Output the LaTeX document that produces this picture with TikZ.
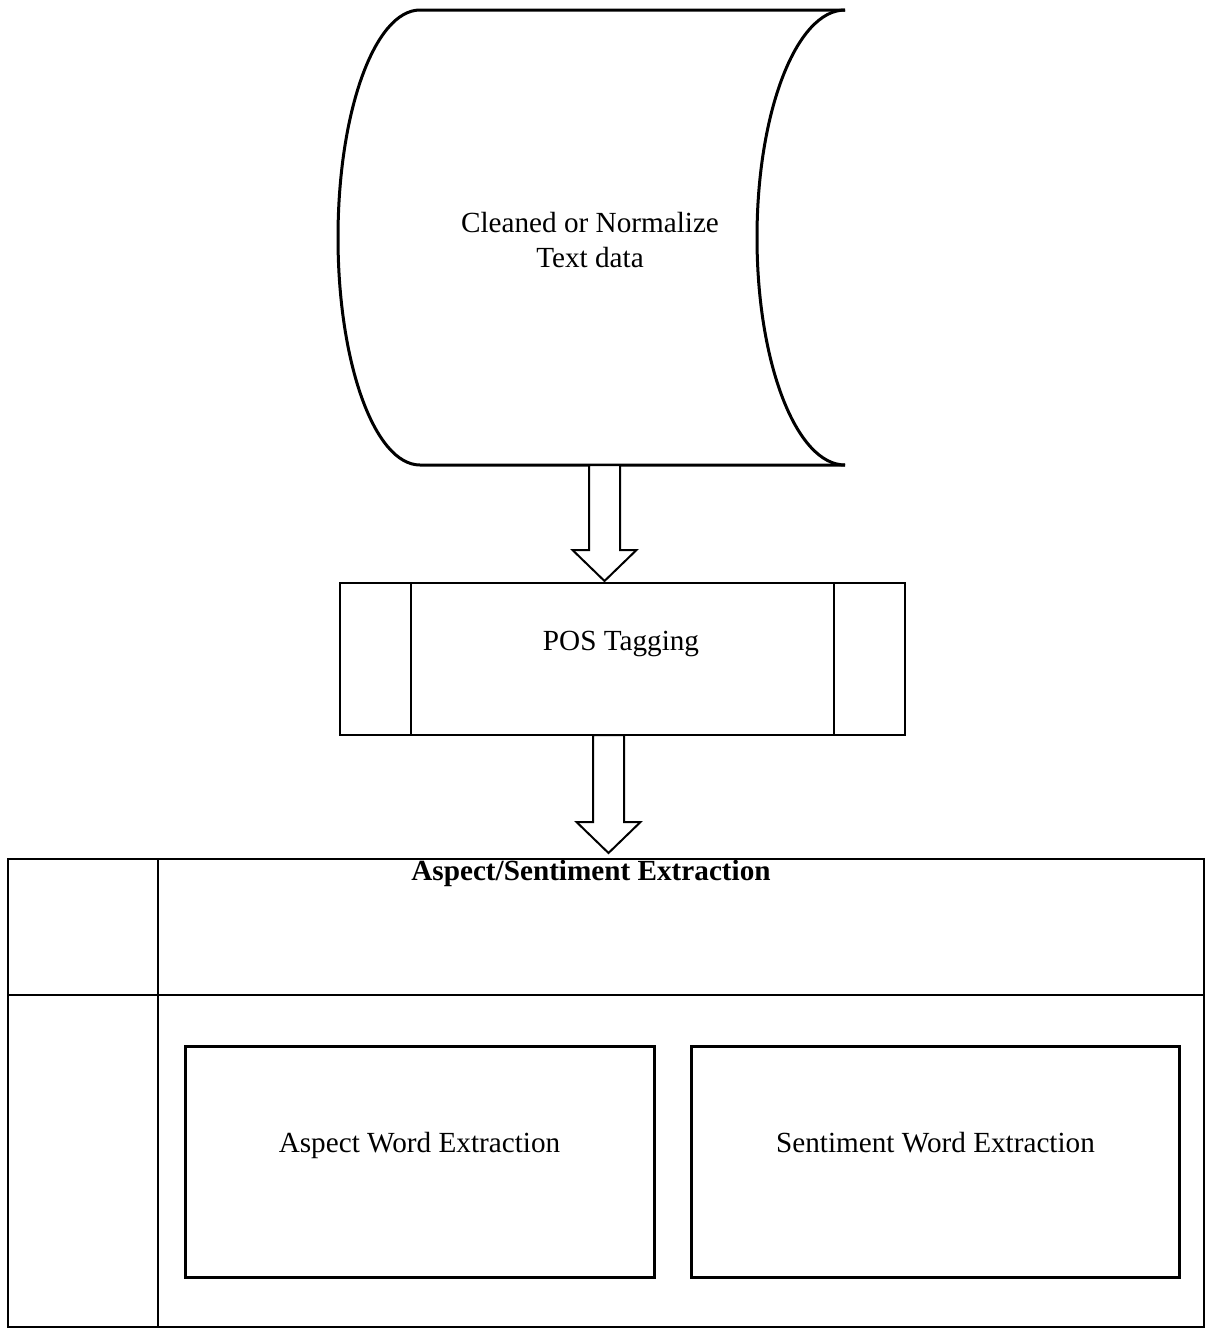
\documentclass[tikz,border=0pt]{standalone}
\usepackage{fontspec}
\setmainfont{Liberation Serif}
\usetikzlibrary{calc}

\begin{document}
\begin{tikzpicture}[x=0.5pt,y=-0.5pt]
    \tikzstyle{every node}=[font=\fontsize{14.6}{17.5}\selectfont, inner sep=0pt, align=center]
    \tikzstyle{oneline}=[text height=10pt, text depth=3pt]
    \tikzstyle{boxline}=[line width=1.2pt]
    \tikzstyle{blockarrow}=[line width=1pt, fill=white, line join=miter]
    \useasboundingbox (0,0) rectangle (1206,1328);

     % stored data shape
     \draw[line width=1.5pt] (845,10) -- (420,10) arc[start angle=270, end angle=90, x radius=82, y radius=227.5] -- (845,465);
     \draw[line width=1.5pt] (845,10) arc[start angle=270, end angle=90, x radius=88, y radius=227.5];
     \node (data) at (590,240) {Cleaned or Normalize\\Text data};

     % POS tagging box
     \draw[boxline] (340,583) rectangle (905,735);
     \draw[boxline] (411,583) -- (411,735);
     \draw[boxline] (834,583) -- (834,735);
     \node[oneline] (pos) at (621,643.5) {POS Tagging};

     \coordinate (datafoot) at (604.5,465);
     \coordinate (posfoot) at (608.5,735);
     \foreach \c/\len in {datafoot/85, posfoot/87}
       \draw[blockarrow] (\c) ++(-15.5,0) -- ++(0,\len) -- ++(-16.5,0) -- ++(32,31) -- ++(32,-31) -- ++(-16.5,0) -- ++(0,-\len) -- cycle;

     % extraction table
     \draw[boxline] (8,859) rectangle (1204,1327);
     \draw[boxline] (8,995) -- (1204,995);
     \draw[boxline] (158,859) -- (158,1327);
     \node[oneline, font=\fontsize{14.6}{17.5}\selectfont\bfseries] (title) at (591,873) {Aspect/Sentiment Extraction};

     \draw[line width=1.5pt] (185,1046) rectangle (654,1277);
     \draw[line width=1.5pt] (691,1046) rectangle (1179,1277);
     \node[oneline] (aspect) at (419.5,1145) {Aspect Word Extraction};
     \node[oneline] (sentiment) at (935.5,1145) {Sentiment Word Extraction};
\end{tikzpicture}
\end{document}
